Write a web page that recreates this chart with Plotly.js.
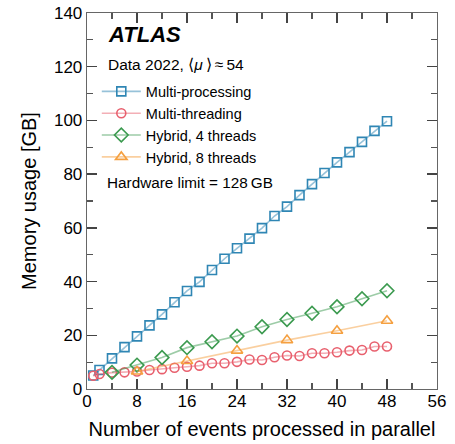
<!DOCTYPE html>
<html>
<head>
<meta charset="utf-8">
<script src="https://cdn.plot.ly/plotly-3.0.1.min.js"></script>
<style>html,body{margin:0;padding:0;background:#fff;}</style>
</head>
<body>
<div id="chart" style="width:455px;height:444px;"></div>
<script>
// Data
var mpX = [1,2,4,6,8,10,12,14,16,18,20,22,24,26,28,30,32,34,36,38,40,42,44,46,48];
var mpY = [5.0,7.1,11.4,15.6,19.6,23.7,27.8,32.3,36.5,39.9,44.3,48.5,52.4,56.0,59.9,64.4,67.9,72.2,76.3,80.4,84.4,88.2,92.0,96.1,99.7];

var mtX = [1,2,4,6,8,10,12,14,16,18,20,22,24,26,28,30,32,34,36,38,40,42,44,46,48];
var mtY = [4.95,5.6,6.1,6.2,6.5,7.1,7.4,7.9,8.3,8.7,9.6,9.6,10.1,11.0,10.8,11.8,12.5,12.3,13.3,13.3,13.7,14.3,14.5,15.8,15.8];

var h4X = [4,8,12,16,20,24,28,32,36,40,44,48];
var h4Y = [6.2,8.9,11.7,15.4,17.6,19.7,23.2,25.9,28.2,30.6,33.6,36.6];

var h8X = [8,16,24,32,40,48];
var h8Y = [6.5,10.4,14.3,18.2,21.7,25.4];

var seriesNames = ["Multi-processing","Multi-threading","Hybrid, 4 threads","Hybrid, 8 threads"];

var xTicks = [0,8,16,24,32,40,48,56];
var yTicks = [0,20,40,60,80,100,120,140];

var FONT = "Liberation Sans, Arial, Helvetica, sans-serif";

function mk(x, y, name, mcol, lcol, sym, size) {
  return {
    x: x, y: y, name: name, type: "scatter", mode: "lines+markers",
    line: {color: lcol, width: 1.6},
    marker: {symbol: sym, size: size, color: mcol, line: {color: mcol, width: 1.6}},
    cliponaxis: false
  };
}

var traces = [
  mk(mpX, mpY, seriesNames[0], "#2f86b4", "rgba(47,134,180,0.5)", "square-open", 9),
  mk(mtX, mtY, seriesNames[1], "#e8606e", "rgba(232,96,110,0.5)", "circle-open", 9),
  mk(h4X, h4Y, seriesNames[2], "#3b9a4f", "rgba(59,154,79,0.5)", "diamond-open", 10.5),
  mk(h8X, h8Y, seriesNames[3], "#f5a040", "rgba(245,160,64,0.5)", "triangle-up-open", 10)
];

var axisCommon = {
  showgrid: false, zeroline: false,
  showline: true, linecolor: "#666", linewidth: 1.3,
  mirror: "allticks",
  ticks: "inside", ticklen: 10, tickwidth: 1.3, tickcolor: "#444",
  tickfont: {family: FONT, size: 17, color: "#000"}
};

var layout = {
  width: 455, height: 444,
  margin: {l: 87, r: 18, t: 13, b: 55},
  paper_bgcolor: "#fff", plot_bgcolor: "#fff",
  font: {family: FONT, color: "#000"},
  xaxis: Object.assign({}, axisCommon, {
    range: [0, 56], tickvals: xTicks, ticktext: xTicks.map(String),
    ticklabelstandoff: -4,
    minor: {dtick: 4, tick0: 0, ticklen: 6, tickwidth: 1.2, tickcolor: "#555", ticks: "inside"},
    title: {text: "Number of events processed in parallel", font: {family: FONT, size: 20}, standoff: 12}
  }),
  yaxis: Object.assign({}, axisCommon, {
    range: [0, 140], tickvals: yTicks, ticktext: yTicks.map(String),
    minor: {dtick: 10, tick0: 0, ticklen: 6, tickwidth: 1.2, tickcolor: "#555", ticks: "inside"},
    title: {text: "Memory usage [GB]", font: {family: FONT, size: 20}, standoff: 12}
  }),
  showlegend: true,
  legend: {
    x: 0.028, y: 0.834, xanchor: "left", yanchor: "top",
    bgcolor: "rgba(0,0,0,0)", borderwidth: 0,
    font: {family: FONT, size: 14.5, color: "#000"},
    itemwidth: 39, tracegroupgap: 0
  },
  annotations: [
    {xref: "paper", yref: "paper", x: 0.055, y: 0.9415, xanchor: "left", yanchor: "middle",
     text: "<b><i>ATLAS</i></b>", showarrow: false, font: {family: FONT, size: 22, color: "#000"}},
    {xref: "paper", yref: "paper", x: 0.055, y: 0.862, xanchor: "left", yanchor: "middle",
     text: "Data 2022, \u27E8<i>\u03BC</i>\u2009\u27E9\u2009\u2248\u200954", showarrow: false, font: {family: FONT, size: 15.5, color: "#000"}},
    {xref: "paper", yref: "paper", x: 0.052, y: 0.5505, xanchor: "left", yanchor: "middle",
     text: "Hardware limit = 128\u2009GB", showarrow: false, font: {family: FONT, size: 15.3, color: "#000"}}
  ]
};

Plotly.newPlot("chart", traces, layout, {displayModeBar: false, staticPlot: true});
</script>
</body>
</html>
